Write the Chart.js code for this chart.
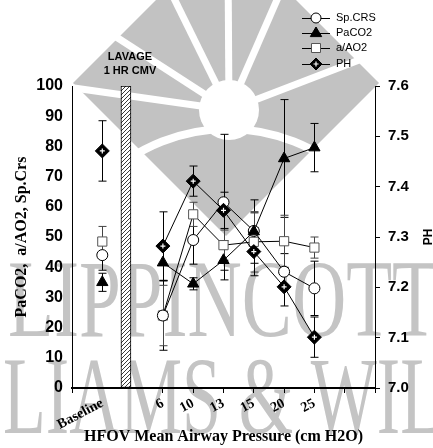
<!DOCTYPE html>
<html><head><meta charset="utf-8">
<script src="https://cdn.jsdelivr.net/npm/chart.js@4.4.0/dist/chart.umd.min.js"></script>
<style>html,body{margin:0;padding:0;background:#fff;}#wrap{width:433px;height:448px;}</style>
</head><body><div id="wrap"><canvas id="c" width="433" height="448"></canvas></div>
<script>
// ---------- data ----------
const categories = ['Baseline', '6', '10', '13', '15', '20', '25'];
const catPos = [1, 3, 4, 5, 6, 7, 8];
const xTickVals = [0, 1, 3, 4, 5, 6, 7, 8, 9, 10];
const lavagePos = 1.78;
const lavageValue = 100;
const spCrs = [44, 24, 49, 61.5, 52, 38.5, 33];
const spCrsErr = [5, 11.5, 8, 22.5, 6, 6, 9];
const paco2 = [35, 41.5, 34.5, 42.3, 51.8, 76, 79.6];
const paco2Err = [3, 6, 2, 6.5, 10.5, 19.5, 8];
const aAO2 = [48.5, 24, 57.5, 47.3, 48.4, 48.6, 46.5];
const aAO2Err = [5, 10, 4, 5, 10, 8.6, 3.5];
const ph = [7.471, 7.282, 7.411, 7.353, 7.271, 7.201, 7.101];
const phErr = [0.06, 0.068, 0.03, 0.036, 0.048, 0.038, 0.04];
const leftTicks = [0, 10, 20, 30, 40, 50, 60, 70, 80, 90, 100];
const rightTicks = [7.0, 7.1, 7.2, 7.3, 7.4, 7.5, 7.6];
const seriesNames = ['Sp.CRS', 'PaCO2', 'a/AO2', 'PH'];

// ---------- helpers ----------
const SANS = "'Liberation Sans', Arial, sans-serif";
const SERIF = "'Liberation Serif', 'Times New Roman', serif";
function toPoints(vals) {
  const pts = [];
  vals.forEach((v, i) => {
    if (i === 1) pts.push({ x: lavagePos, y: null });
    pts.push({ x: catPos[i], y: v });
  });
  return pts;
}
function makeHatch() {
  const pc = document.createElement('canvas');
  pc.width = 4; pc.height = 4;
  const p = pc.getContext('2d');
  p.fillStyle = '#fff'; p.fillRect(0, 0, 4, 4);
  p.strokeStyle = '#222'; p.lineWidth = 0.9;
  p.beginPath();
  p.moveTo(0, 4); p.lineTo(4, 0);
  p.moveTo(-1, 1); p.lineTo(1, -1);
  p.moveTo(3, 5); p.lineTo(5, 3);
  p.stroke();
  return document.getElementById('c').getContext('2d').createPattern(pc, 'repeat');
}
function marker(ctx, style, x, y, r, fill, stroke) {
  ctx.beginPath();
  if (style === 'circle') ctx.arc(x, y, r, 0, Math.PI * 2);
  else if (style === 'triangle') { ctx.moveTo(x, y - r); ctx.lineTo(x + r * 0.95, y + r * 0.6); ctx.lineTo(x - r * 0.95, y + r * 0.6); ctx.closePath(); }
  else if (style === 'rect') ctx.rect(x - r, y - r, 2 * r, 2 * r);
  else if (style === 'rectRot') { ctx.moveTo(x, y - r); ctx.lineTo(x + r, y); ctx.lineTo(x, y + r); ctx.lineTo(x - r, y); ctx.closePath(); }
  ctx.fillStyle = fill; ctx.fill();
  ctx.lineWidth = 1; ctx.strokeStyle = stroke; ctx.stroke();
}
function cross(ctx, x, y) {
  ctx.save(); ctx.strokeStyle = '#fff'; ctx.lineWidth = 1.2;
  ctx.beginPath(); ctx.moveTo(x - 2.5, y); ctx.lineTo(x + 2.5, y); ctx.moveTo(x, y - 2.5); ctx.lineTo(x, y + 2.5); ctx.stroke();
  ctx.restore();
}

// ---------- watermark ----------
const wmPlugin = {
  id: 'wm',
  beforeDraw(chart) {
    const ctx = chart.ctx;
    ctx.save();
    const G = '#c2c2c2';
    ctx.fillStyle = G;
    ctx.beginPath(); ctx.moveTo(73, 83); ctx.lineTo(226, -70); ctx.lineTo(379, 83); ctx.lineTo(226, 236); ctx.closePath(); ctx.fill();
    ctx.strokeStyle = '#fff';
    ctx.lineWidth = 8;
    ctx.beginPath(); ctx.arc(228, 308, 179, Math.PI, Math.PI * 2); ctx.stroke();
    const sx = 229, sy = 110;
    ctx.fillStyle = '#fff';
    ctx.beginPath(); ctx.arc(sx, sy, 30, 0, Math.PI * 2); ctx.fill();
    const rays = [[60, 86], [90, 20], [160, -30], [228, -40], [290, -30], [380, 52], [400, -20]];
    ctx.lineWidth = 7;
    rays.slice(0, 6).forEach(([ex, ey]) => { ctx.beginPath(); ctx.moveTo(sx, sy); ctx.lineTo(ex, ey); ctx.stroke(); });
    // text
    ctx.fillStyle = '#c4c4c4';
    ctx.textBaseline = 'alphabetic';
    ctx.font = '110px ' + SERIF;
    let w = ctx.measureText('LIPPINCOTT').width;
    ctx.save(); ctx.translate(8, 336); ctx.scale(430 / w, 1); ctx.fillText('LIPPINCOTT', 0, 0); ctx.restore();
    const full = 'WILLIAMS & WILKINS';
    const pre = ctx.measureText('WIL').width;
    const part = ctx.measureText('LIAMS & WIL').width;
    const s2 = 440 / part;
    ctx.save(); ctx.translate(3 - pre * s2, 433); ctx.scale(s2, 1); ctx.fillText(full, 0, 0); ctx.restore();
    ctx.restore();
  }
};

// ---------- error bars, crosses, legend, texts ----------
const extras = {
  id: 'extras',
  beforeDatasetsDraw(chart) {
    const ctx = chart.ctx, xs = chart.scales.x, y = chart.scales.y, y2 = chart.scales.y2;
    ctx.save();
    const sets = [[spCrs, spCrsErr, y, '#000'], [paco2, paco2Err, y, '#000'], [aAO2, aAO2Err, y, '#444'], [ph, phErr, y2, '#000']];
    sets.forEach(([vals, errs, sc, col]) => {
      ctx.strokeStyle = col; ctx.lineWidth = 1;
      vals.forEach((v, i) => {
        const px = Math.round(xs.getPixelForValue(catPos[i])) + 0.5;
        const t = sc.getPixelForValue(v + errs[i]), b = sc.getPixelForValue(v - errs[i]);
        ctx.beginPath();
        ctx.moveTo(px, t); ctx.lineTo(px, b);
        ctx.moveTo(px - 4, t); ctx.lineTo(px + 4, t);
        ctx.moveTo(px - 4, b); ctx.lineTo(px + 4, b);
        ctx.stroke();
      });
    });
    ctx.restore();
  },
  afterDatasetsDraw(chart) {
    const ctx = chart.ctx;
    const meta = chart.getDatasetMeta(0);
    meta.data.forEach(pt => { if (!pt.skip && !isNaN(pt.y)) cross(ctx, pt.x, pt.y); });
  },
  afterDraw(chart) {
    const ctx = chart.ctx, ca = chart.chartArea, xs = chart.scales.x;
    ctx.save();
    // legend
    const styles = [['circle', 5, '#fff', '#000'], ['triangle', 6, '#000', '#000'], ['rect', 4.5, '#fff', '#555'], ['rectRot', 6, '#000', '#000']];
    const ly = [18, 33, 48, 64];
    ctx.font = '11px ' + SANS; ctx.textBaseline = 'middle'; ctx.textAlign = 'left';
    seriesNames.forEach((n, i) => {
      ctx.strokeStyle = '#000'; ctx.lineWidth = 1;
      ctx.beginPath(); ctx.moveTo(302, ly[i] + 0.5); ctx.lineTo(330, ly[i] + 0.5); ctx.stroke();
      const s = styles[i];
      marker(ctx, s[0], 316, ly[i], s[1], s[2], s[3]);
      if (i === 3) cross(ctx, 316, ly[i]);
      ctx.fillStyle = '#000'; ctx.fillText(n, 336, ly[i]);
    });
    // lavage label
    const bx = xs.getPixelForValue(lavagePos) + 4;
    ctx.font = 'bold 11px ' + SANS; ctx.textAlign = 'center';
    ctx.fillText('LAVAGE', bx, ca.top - 29);
    ctx.fillText('1 HR CMV', bx, ca.top - 15);
    // right title
    ctx.save();
    ctx.translate(chart.width - 4, (ca.top + ca.bottom) / 2);
    ctx.rotate(-Math.PI / 2);
    ctx.font = 'bold 12px ' + SANS; ctx.textAlign = 'center'; ctx.textBaseline = 'middle';
    ctx.fillText('PH', 0, 0);
    ctx.restore();
    ctx.restore();
  }
};

const ctx = document.getElementById('c').getContext('2d');
new Chart(ctx, {
  type: 'line',
  data: {
    datasets: [
      { label: seriesNames[3], data: toPoints(ph), yAxisID: 'y2', order: 1, borderColor: '#000', borderWidth: 1, pointStyle: 'rectRot', pointRadius: 7, pointBackgroundColor: '#000', pointBorderColor: '#000', spanGaps: false },
      { label: seriesNames[1], data: toPoints(paco2), yAxisID: 'y', order: 2, borderColor: '#000', borderWidth: 1, pointStyle: 'triangle', pointRadius: 6.5, pointBackgroundColor: '#000', pointBorderColor: '#000', spanGaps: false },
      { label: seriesNames[0], data: toPoints(spCrs), yAxisID: 'y', order: 3, borderColor: '#000', borderWidth: 1, pointStyle: 'circle', pointRadius: 5.5, pointBackgroundColor: '#fff', pointBorderColor: '#000', pointBorderWidth: 1, spanGaps: false },
      { label: seriesNames[2], data: toPoints(aAO2), yAxisID: 'y', order: 4, borderColor: '#000', borderWidth: 1, pointStyle: 'rect', pointRadius: 6.5, pointBackgroundColor: '#fff', pointBorderColor: '#555', pointBorderWidth: 1, spanGaps: false },
      { type: 'bar', label: 'LAVAGE 1 HR CMV', data: [{ x: lavagePos, y: lavageValue }], yAxisID: 'y', order: 5, barThickness: 10, backgroundColor: makeHatch(), borderColor: '#000', borderWidth: 1, borderSkipped: false }
    ]
  },
  options: {
    responsive: false, animation: false,
    layout: { padding: { top: 86, left: 0, right: 0, bottom: 0 } },
    plugins: { legend: { display: false }, tooltip: { enabled: false } },
    scales: {
      x: {
        type: 'linear', position: 'bottom', min: 0, max: 10, offset: false,
        afterBuildTicks: s => { s.ticks = xTickVals.map(v => ({ value: v })); },
        afterFit: s => { s.height = 60; },
        border: { color: '#000', width: 2 },
        grid: { drawOnChartArea: false, drawTicks: true, tickLength: 5, offset: false,
          tickColor: c => (c.tick && (c.tick.value === 1 || c.tick.value === 2)) ? 'rgba(0,0,0,0)' : '#000' },
        ticks: { autoSkip: false, minRotation: 28, maxRotation: 28, padding: 2, color: '#000',
          font: { family: SERIF, weight: 'bold', size: 14 },
          callback: v => { const i = catPos.indexOf(v); return i >= 0 ? categories[i] : ''; } },
        title: { display: true, text: 'HFOV Mean Airway Pressure (cm H2O)', color: '#000',
          font: { family: SERIF, weight: 'bold', size: 16 }, padding: { top: 0, bottom: 2 } }
      },
      y: {
        position: 'left', min: 0, max: 100,
        afterBuildTicks: s => { s.ticks = leftTicks.map(v => ({ value: v })); },
        afterFit: s => { s.width = 72; },
        border: { color: '#000', width: 1 },
        grid: { drawOnChartArea: false, drawTicks: false },
        ticks: { padding: 9, color: '#000', font: { family: SANS, weight: 'bold', size: 16 } },
        title: { display: true, text: 'PaCO2,  a/AO2, Sp.Crs', color: '#000',
          font: { family: SERIF, weight: 'bold', size: 16 }, padding: { top: 12, bottom: 0 } }
      },
      y2: {
        position: 'right', min: 7.0, max: 7.6,
        afterBuildTicks: s => { s.ticks = rightTicks.map(v => ({ value: v })); },
        afterFit: s => { s.width = 58; },
        border: { color: '#000', width: 1 },
        grid: { drawOnChartArea: false, drawTicks: true, tickLength: 5, color: '#000' },
        ticks: { padding: 8, color: '#000', font: { family: SANS, weight: 'bold', size: 15 },
          callback: v => Number(v).toFixed(1) }
      }
    }
  },
  plugins: [wmPlugin, extras]
});
</script>
</body></html>
